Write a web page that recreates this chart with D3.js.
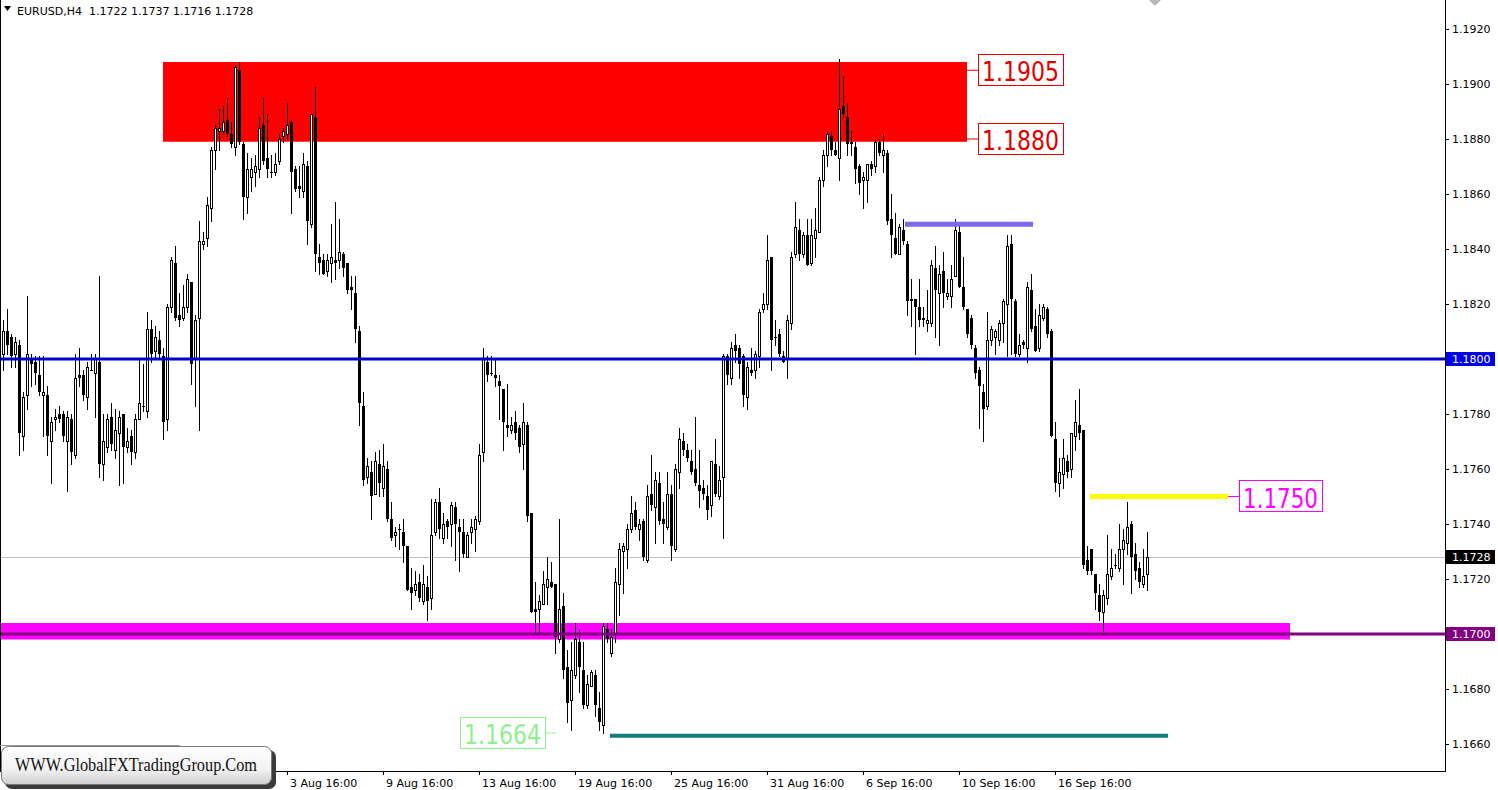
<!DOCTYPE html>
<html><head><meta charset="utf-8">
<script src="https://cdn.jsdelivr.net/npm/d3@7"></script>
<style>body{margin:0;background:#fff}svg{display:block}</style>
</head><body><svg id="c" width="1498" height="790"></svg>
<script>
// ---- data (EURUSD H4) ----
const symbolTitle = "EURUSD,H4";
const opens = [
1.1802,1.1810,1.1808,1.1802,1.1805,1.1772,1.1787,1.1800,1.1799,1.1794,
1.1787,1.1787,1.1770,1.1778,1.1780,1.1780,1.1770,1.1778,1.1765,1.1794,
1.1794,1.1786,1.1796,1.1795,1.1799,1.1762,1.1768,1.1779,1.1767,1.1773,
1.1780,1.1768,1.1772,1.1766,1.1778,1.1783,1.1781,1.1811,1.1803,1.1807,
1.1801,1.1778,1.1819,1.1835,1.1816,1.1815,1.1819,1.1828,1.1800,1.1815,
1.1842,1.1844,1.1855,1.1876,1.1883,1.1883,1.1887,1.1882,1.1877,1.1905,
1.1878,1.1859,1.1866,1.1868,1.1869,1.1885,1.1873,1.1868,1.1868,1.1872,
1.1881,1.1882,1.1886,1.1869,1.1863,1.1861,1.1870,1.1849,1.1888,1.1837,
1.1836,1.1832,1.1835,1.1836,1.1836,1.1838,1.1835,1.1826,1.1824,1.1810,
1.1783,1.1757,1.1759,1.1751,1.1762,1.1753,1.1760,1.1742,1.1736,1.1738,
1.1737,1.1732,1.1717,1.1716,1.1719,1.1712,1.1717,1.1713,1.1737,1.1748,
1.1735,1.1741,1.1740,1.1746,1.1739,1.1737,1.1728,1.1737,1.1738,1.1741,
1.1766,1.1799,1.1795,1.1794,1.1792,1.1789,1.1776,1.1774,1.1777,1.1775,
1.1769,1.1776,1.1744,1.1709,1.1709,1.1711,1.1717,1.1719,1.1718,1.1698,
1.1710,1.1688,1.1676,1.1685,1.1697,1.1687,1.1674,1.1681,1.1685,1.1673,
1.1667,1.1702,1.1693,1.1700,1.1718,1.1730,1.1731,1.1738,1.1745,1.1738,
1.1741,1.1727,1.1751,1.1746,1.1755,1.1742,1.1739,1.1751,1.1731,1.1759,
1.1770,1.1767,1.1763,1.1760,1.1754,1.1753,1.1750,1.1747,1.1762,1.1750,
1.1757,1.1801,1.1793,1.1805,1.1804,1.1801,1.1786,1.1796,1.1796,1.1801,
1.1818,1.1820,1.1837,1.1808,1.1809,1.1801,1.1800,1.1813,1.1838,1.1847,
1.1838,1.1845,1.1835,1.1844,1.1846,1.1865,1.1874,1.1881,1.1876,1.1873,
1.1892,1.1888,1.1879,1.1877,1.1870,1.1865,1.1865,1.1871,1.1870,1.1879,
1.1874,1.1875,1.1851,1.1844,1.1838,1.1847,1.1842,1.1822,1.1822,1.1819,
1.1815,1.1813,1.1813,1.1833,1.1824,1.1832,1.1823,1.1823,1.1830,1.1846,
1.1826,1.1818,1.1815,1.1804,1.1796,1.1788,1.1783,1.1807,1.1808,1.1807,
1.1813,1.1820,1.1842,1.1821,1.1802,1.1806,1.1804,1.1825,1.1812,1.1804,
1.1815,1.1818,1.1810,1.1771,1.1755,1.1758,1.1763,1.1760,1.1772,1.1776,
1.1774,1.1727,1.1731,1.1722,1.1714,1.1708,1.1713,1.1721,1.1725,1.1724,
1.1731,1.1733,1.1740,1.1729,1.1724,1.1718,1.1722];
const highs = [
1.1814,1.1818,1.1809,1.1808,1.1807,1.1788,1.1823,1.1802,1.1801,1.1801,
1.1801,1.1790,1.1779,1.1782,1.1783,1.1781,1.1781,1.1780,1.1802,1.1804,
1.1796,1.1799,1.1802,1.1802,1.1830,1.1780,1.1780,1.1784,1.1782,1.1781,
1.1780,1.1775,1.1774,1.1780,1.1800,1.1798,1.1817,1.1814,1.1812,1.1810,
1.1804,1.1820,1.1837,1.1841,1.1824,1.1827,1.1831,1.1828,1.1816,1.1850,
1.1846,1.1859,1.1877,1.1885,1.1891,1.1892,1.1895,1.1886,1.1907,1.1908,
1.1879,1.1875,1.1873,1.1874,1.1888,1.1895,1.1889,1.1874,1.1875,1.1882,
1.1884,1.1893,1.1887,1.1870,1.1870,1.1875,1.1872,1.1889,1.1899,1.1842,
1.1838,1.1838,1.1849,1.1857,1.1851,1.1839,1.1835,1.1830,1.1830,1.1812,
1.1788,1.1764,1.1763,1.1766,1.1767,1.1769,1.1763,1.1748,1.1739,1.1740,
1.1742,1.1732,1.1724,1.1723,1.1722,1.1725,1.1721,1.1749,1.1749,1.1753,
1.1744,1.1742,1.1748,1.1748,1.1742,1.1742,1.1737,1.1742,1.1743,1.1769,
1.1804,1.1801,1.1801,1.1800,1.1794,1.1789,1.1791,1.1779,1.1781,1.1776,
1.1784,1.1777,1.1744,1.1719,1.1714,1.1723,1.1728,1.1726,1.1718,1.1742,
1.1715,1.1694,1.1697,1.1704,1.1702,1.1697,1.1685,1.1687,1.1687,1.1679,
1.1704,1.1704,1.1702,1.1724,1.1733,1.1733,1.1740,1.1750,1.1748,1.1742,
1.1742,1.1754,1.1765,1.1759,1.1759,1.1748,1.1759,1.1754,1.1762,1.1775,
1.1773,1.1769,1.1767,1.1779,1.1767,1.1756,1.1754,1.1763,1.1771,1.1761,
1.1802,1.1802,1.1806,1.1809,1.1805,1.1802,1.1799,1.1804,1.1803,1.1818,
1.1824,1.1845,1.1837,1.1814,1.1811,1.1803,1.1816,1.1839,1.1857,1.1851,
1.1846,1.1851,1.1851,1.1855,1.1866,1.1876,1.1883,1.1883,1.1879,1.1909,
1.1903,1.1893,1.1883,1.1879,1.1871,1.1868,1.1871,1.1872,1.1880,1.1880,
1.1882,1.1876,1.1860,1.1853,1.1849,1.1851,1.1843,1.1829,1.1822,1.1829,
1.1819,1.1825,1.1836,1.1841,1.1834,1.1839,1.1829,1.1834,1.1851,1.1849,
1.1837,1.1818,1.1816,1.1805,1.1797,1.1791,1.1817,1.1812,1.1811,1.1814,
1.1822,1.1845,1.1845,1.1822,1.1809,1.1807,1.1828,1.1831,1.1818,1.1820,
1.1820,1.1819,1.1811,1.1777,1.1764,1.1771,1.1765,1.1773,1.1785,1.1789,
1.1774,1.1732,1.1731,1.1722,1.1718,1.1716,1.1736,1.1731,1.1729,1.1740,
1.1738,1.1748,1.1741,1.1733,1.1726,1.1731,1.1737];
const lows = [
1.1796,1.1802,1.1797,1.1797,1.1765,1.1767,1.1782,1.1790,1.1791,1.1787,
1.1772,1.1765,1.1755,1.1774,1.1777,1.1770,1.1752,1.1762,1.1764,1.1790,
1.1785,1.1782,1.1796,1.1779,1.1757,1.1756,1.1766,1.1767,1.1764,1.1754,
1.1755,1.1766,1.1762,1.1764,1.1778,1.1781,1.1779,1.1799,1.1800,1.1800,
1.1771,1.1774,1.1817,1.1814,1.1812,1.1814,1.1817,1.1791,1.1783,1.1774,
1.1840,1.1841,1.1850,1.1869,1.1876,1.1882,1.1881,1.1877,1.1874,1.1878,
1.1851,1.1853,1.1861,1.1863,1.1866,1.1871,1.1866,1.1866,1.1867,1.1871,
1.1879,1.1880,1.1853,1.1861,1.1859,1.1859,1.1842,1.1848,1.1832,1.1831,
1.1831,1.1830,1.1828,1.1829,1.1833,1.1830,1.1824,1.1818,1.1806,1.1776,
1.1754,1.1755,1.1742,1.1751,1.1750,1.1750,1.1741,1.1734,1.1732,1.1731,
1.1726,1.1716,1.1709,1.1714,1.1712,1.1711,1.1705,1.1709,1.1736,1.1735,
1.1733,1.1735,1.1732,1.1727,1.1723,1.1728,1.1728,1.1733,1.1730,1.1740,
1.1763,1.1792,1.1794,1.1790,1.1778,1.1767,1.1772,1.1773,1.1771,1.1766,
1.1760,1.1741,1.1708,1.1700,1.1700,1.1711,1.1711,1.1717,1.1693,1.1697,
1.1684,1.1668,1.1665,1.1684,1.1679,1.1673,1.1673,1.1681,1.1670,1.1665,
1.1664,1.1697,1.1692,1.1697,1.1707,1.1715,1.1724,1.1737,1.1738,1.1734,
1.1727,1.1726,1.1745,1.1733,1.1740,1.1733,1.1738,1.1727,1.1730,1.1753,
1.1765,1.1763,1.1758,1.1754,1.1746,1.1749,1.1742,1.1743,1.1750,1.1749,
1.1735,1.1791,1.1791,1.1799,1.1793,1.1783,1.1782,1.1794,1.1793,1.1797,
1.1817,1.1818,1.1796,1.1805,1.1801,1.1799,1.1793,1.1811,1.1837,1.1836,
1.1837,1.1834,1.1834,1.1837,1.1846,1.1863,1.1870,1.1874,1.1874,1.1865,
1.1888,1.1874,1.1874,1.1864,1.1860,1.1855,1.1857,1.1867,1.1868,1.1874,
1.1868,1.1849,1.1837,1.1838,1.1838,1.1842,1.1816,1.1812,1.1802,1.1812,
1.1812,1.1810,1.1812,1.1808,1.1805,1.1819,1.1822,1.1819,1.1830,1.1826,
1.1818,1.1808,1.1804,1.1793,1.1775,1.1770,1.1782,1.1805,1.1802,1.1805,
1.1806,1.1801,1.1802,1.1801,1.1801,1.1804,1.1799,1.1810,1.1803,1.1803,
1.1814,1.1808,1.1772,1.1752,1.1750,1.1753,1.1757,1.1757,1.1767,1.1771,
1.1724,1.1722,1.1722,1.1709,1.1705,1.1701,1.1711,1.1720,1.1724,1.1723,
1.1718,1.1729,1.1715,1.1720,1.1717,1.1717,1.1716];
const closes = [
1.1810,1.1805,1.1801,1.1806,1.1773,1.1786,1.1802,1.1798,1.1795,1.1788,
1.1788,1.1772,1.1777,1.1779,1.1778,1.1772,1.1779,1.1766,1.1793,1.1793,
1.1787,1.1797,1.1796,1.1800,1.1762,1.1770,1.1778,1.1769,1.1774,1.1779,
1.1768,1.1770,1.1766,1.1778,1.1784,1.1783,1.1811,1.1802,1.1808,1.1802,
1.1777,1.1819,1.1836,1.1815,1.1814,1.1819,1.1829,1.1798,1.1814,1.1843,
1.1843,1.1856,1.1876,1.1884,1.1884,1.1886,1.1882,1.1878,1.1906,1.1879,
1.1859,1.1869,1.1869,1.1870,1.1884,1.1872,1.1869,1.1868,1.1871,1.1880,
1.1883,1.1885,1.1868,1.1862,1.1862,1.1871,1.1850,1.1889,1.1838,1.1835,
1.1831,1.1836,1.1837,1.1835,1.1839,1.1833,1.1825,1.1825,1.1811,1.1784,
1.1756,1.1761,1.1750,1.1763,1.1755,1.1761,1.1742,1.1735,1.1737,1.1738,
1.1732,1.1716,1.1715,1.1718,1.1713,1.1718,1.1712,1.1736,1.1748,1.1738,
1.1740,1.1739,1.1747,1.1740,1.1737,1.1729,1.1736,1.1739,1.1742,1.1765,
1.1800,1.1794,1.1795,1.1793,1.1790,1.1777,1.1775,1.1776,1.1773,1.1768,
1.1777,1.1743,1.1708,1.1708,1.1712,1.1718,1.1720,1.1717,1.1699,1.1709,
1.1687,1.1675,1.1687,1.1698,1.1688,1.1674,1.1682,1.1686,1.1674,1.1668,
1.1703,1.1698,1.1699,1.1719,1.1731,1.1732,1.1738,1.1744,1.1739,1.1740,
1.1728,1.1750,1.1747,1.1756,1.1741,1.1740,1.1751,1.1732,1.1760,1.1771,
1.1767,1.1764,1.1759,1.1755,1.1752,1.1751,1.1745,1.1763,1.1751,1.1756,
1.1801,1.1794,1.1804,1.1803,1.1798,1.1787,1.1797,1.1795,1.1802,1.1817,
1.1820,1.1836,1.1807,1.1808,1.1802,1.1799,1.1814,1.1837,1.1848,1.1838,
1.1845,1.1834,1.1845,1.1847,1.1865,1.1874,1.1882,1.1876,1.1874,1.1891,
1.1889,1.1878,1.1878,1.1869,1.1864,1.1866,1.1871,1.1869,1.1879,1.1875,
1.1876,1.1850,1.1845,1.1838,1.1848,1.1843,1.1821,1.1821,1.1819,1.1814,
1.1814,1.1814,1.1834,1.1825,1.1831,1.1824,1.1824,1.1829,1.1847,1.1826,
1.1819,1.1809,1.1805,1.1795,1.1790,1.1782,1.1807,1.1811,1.1810,1.1813,
1.1821,1.1841,1.1822,1.1802,1.1805,1.1805,1.1826,1.1811,1.1803,1.1816,
1.1819,1.1809,1.1772,1.1755,1.1759,1.1764,1.1759,1.1773,1.1777,1.1773,
1.1725,1.1723,1.1723,1.1715,1.1708,1.1714,1.1722,1.1724,1.1725,1.1731,
1.1734,1.1739,1.1728,1.1723,1.1719,1.1721,1.1728];

const priceTicks = [1.1660,1.1680,1.1700,1.1720,1.1740,1.1760,1.1780,1.1800,1.1820,1.1840,1.1860,1.1880,1.1900,1.1920];
const timeTickBars = [48,72,96,120,144,168,192,216,240,264];
const timeTickLabels = ["28 Jul 2021","3 Aug 16:00","9 Aug 16:00","13 Aug 16:00","19 Aug 16:00","25 Aug 16:00","31 Aug 16:00","6 Sep 16:00","10 Sep 16:00","16 Sep 16:00"];

// analysis objects (prices / bar indexes)
const resistanceZone = {from: 40, to: 241, top: 1.1908, bottom: 1.1879};
const resistanceLabels = [1.1905, 1.1880];
const supportZone = {from: -1, to: 321.75, top: 1.1704, bottom: 1.1698};
const level1800 = 1.1800;
const level1700 = 1.1700;
const currentPrice = 1.1728;
const slateLevel = {from: 225.5, to: 257.5, price: 1.1849};
const yellowLevel = {from: 271.75, to: 306.25, price: 1.1750, label: "1.1750"};
const tealLevel = {from: 151.75, to: 291.25, price: 1.1663};
const lowLabel = {price: 1.1664, label: "1.1664"};
const watermark = "WWW.GlobalFXTradingGroup.Com";

// ---- drawing ----
const svg = d3.select("#c");
const plotR = 1445, plotB = 771;
const x = d3.scaleLinear().domain([0, 286]).range([3, 1147]);
const y = d3.scaleLinear().domain([1.1660, 1.1920]).range([744, 29]);
const fmt = d3.format(".4f");
const FONT = "'DejaVu Sans', Verdana, sans-serif";

svg.append("rect").attr("width",1498).attr("height",790).attr("fill","#fff");
const defs = svg.append("defs");
const g1 = defs.append("linearGradient").attr("id","wm").attr("x1",0).attr("y1",0).attr("x2",0).attr("y2",1);
g1.append("stop").attr("offset","0%").attr("stop-color","#ffffff");
g1.append("stop").attr("offset","60%").attr("stop-color","#f2f2f2");
g1.append("stop").attr("offset","100%").attr("stop-color","#cfcfcf");
defs.append("clipPath").attr("id","plot").append("rect").attr("x",0).attr("y",0).attr("width",plotR).attr("height",plotB);

const plot = svg.append("g").attr("clip-path","url(#plot)");

// zones
plot.append("rect")
  .attr("x", x(resistanceZone.from)).attr("width", x(resistanceZone.to)-x(resistanceZone.from))
  .attr("y", y(resistanceZone.top)).attr("height", y(resistanceZone.bottom)-y(resistanceZone.top))
  .attr("fill","#ff0000");
plot.append("rect")
  .attr("x", Math.max(0,x(supportZone.from))).attr("width", x(supportZone.to)-Math.max(0,x(supportZone.from)))
  .attr("y", y(supportZone.top)).attr("height", y(supportZone.bottom)-y(supportZone.top))
  .attr("fill","#ff00ff");

// current price line
plot.append("line").attr("x1",0).attr("x2",plotR)
  .attr("y1", Math.round(y(currentPrice))+0.5).attr("y2", Math.round(y(currentPrice))+0.5)
  .attr("stroke","#c0c0c0").attr("stroke-width",1);

// candles
const bars = d3.range(opens.length).map(i => ({i, o:opens[i], h:highs[i], l:lows[i], c:closes[i]}));
const cg = plot.append("g").attr("shape-rendering","crispEdges");
bars.forEach(d => {
  const cx = Math.round(x(d.i));
  const yh = Math.round(y(d.h)), yl = Math.round(y(d.l));
  cg.append("line").attr("x1",cx+0.5).attr("x2",cx+0.5).attr("y1",yh).attr("y2",yl+1)
    .attr("stroke","#000").attr("stroke-width",1);
  const top = Math.round(y(Math.max(d.o,d.c))), bot = Math.round(y(Math.min(d.o,d.c)));
  if (d.c > d.o && bot - top >= 2) {
    cg.append("rect").attr("x",cx-0.5).attr("y",top+0.5).attr("width",2).attr("height",bot-top)
      .attr("fill","#fff").attr("stroke","#000").attr("stroke-width",1);
  } else {
    cg.append("rect").attr("x",cx-1).attr("y",top).attr("width",3).attr("height",Math.max(1,bot-top+ (d.c>d.o?1:0)))
      .attr("fill","#000");
  }
});

// horizontal levels
function hline(p, x1, x2, color, w) {
  plot.append("line").attr("x1",x1).attr("x2",x2).attr("y1",y(p)).attr("y2",y(p))
    .attr("stroke",color).attr("stroke-width",w);
}
hline(level1800, 0, plotR, "#0000cd", 3);
hline(level1700, 0, plotR, "#800080", 3);
hline(slateLevel.price, x(slateLevel.from), x(slateLevel.to), "#7b68ee", 5);
hline(yellowLevel.price, x(yellowLevel.from), x(yellowLevel.to), "#ffff00", 5);
hline(tealLevel.price, x(tealLevel.from), x(tealLevel.to), "#127c7c", 4);

// boxed price labels
function boxLabel(p, bx, bw, color, txt, connFrom) {
  const cy = y(p);
  if (connFrom !== undefined) {
    plot.append("line").attr("x1",connFrom).attr("x2",bx).attr("y1",cy).attr("y2",cy)
      .attr("stroke",color).attr("stroke-width",1);
  }
  plot.append("rect").attr("x",bx+0.5).attr("y",Math.round(cy-16)+0.5).attr("width",bw).attr("height",31)
    .attr("fill","none").attr("stroke",color).attr("stroke-width",1);
  plot.append("text").attr("x",bx+4).attr("y",cy+11).attr("fill",color)
    .attr("font-family",FONT).attr("font-size",27)
    .attr("textLength",bw-8).attr("lengthAdjust","spacingAndGlyphs").text(txt);
}
boxLabel(resistanceLabels[0], 978, 85, "#e00000", fmt(resistanceLabels[0]), x(resistanceZone.to));
boxLabel(resistanceLabels[1], 978, 85, "#e00000", fmt(resistanceLabels[1]), x(resistanceZone.to));
boxLabel(yellowLevel.price, 1239, 83, "#ff00ff", yellowLevel.label, x(yellowLevel.to));
boxLabel(lowLabel.price, 460, 85, "#90ee90", lowLabel.label);
plot.append("line").attr("x1",546).attr("x2",556).attr("y1",y(lowLabel.price)).attr("y2",y(lowLabel.price))
  .attr("stroke","#90ee90").attr("stroke-width",1);

// chart-shift marker
svg.append("path").attr("d","M1149,0 L1161,0 L1155,6 Z").attr("fill","#b8b8b8");

// frame
const fr = svg.append("g").attr("shape-rendering","crispEdges").attr("stroke","#000");
fr.append("line").attr("x1",0.5).attr("x2",0.5).attr("y1",0).attr("y2",plotB);
fr.append("line").attr("x1",plotR+0.5).attr("x2",plotR+0.5).attr("y1",0).attr("y2",plotB);
fr.append("line").attr("x1",0).attr("x2",plotR+1).attr("y1",plotB+0.5).attr("y2",plotB+0.5);

// price axis
const ya = svg.append("g");
priceTicks.forEach(p => {
  const ty = Math.round(y(p));
  ya.append("line").attr("x1",plotR).attr("x2",plotR+4).attr("y1",ty+0.5).attr("y2",ty+0.5)
    .attr("stroke","#000").attr("shape-rendering","crispEdges");
  ya.append("text").attr("x",1452).attr("y",ty+4).attr("font-family",FONT).attr("font-size",11)
    .attr("fill","#000").text(fmt(p));
});
function badge(p, color) {
  const ty = Math.round(y(p));
  ya.append("rect").attr("x",plotR+1).attr("y",ty-7).attr("width",49).attr("height",14).attr("fill",color);
  ya.append("text").attr("x",1452).attr("y",ty+4).attr("font-family",FONT).attr("font-size",11)
    .attr("fill","#fff").text(fmt(p));
}
badge(level1800, "#0000e6");
badge(currentPrice, "#000000");
badge(level1700, "#800080");

// time axis
const xa = svg.append("g");
timeTickBars.forEach((b, k) => {
  const tx = Math.round(x(b));
  xa.append("line").attr("x1",tx-3.5).attr("x2",tx-3.5).attr("y1",plotB).attr("y2",plotB+4)
    .attr("stroke","#000").attr("shape-rendering","crispEdges");
  xa.append("text").attr("x",tx-1).attr("y",787).attr("font-family",FONT).attr("font-size",11)
    .attr("fill","#000").text(timeTickLabels[k]);
});

// header
svg.append("path").attr("d","M4,6 L11,6 L7.5,11 Z").attr("fill","#000");
svg.append("text").attr("x",17).attr("y",15).attr("font-family",FONT).attr("font-size",11).attr("fill","#000")
  .attr("xml:space","preserve")
  .text(symbolTitle + "  " + [opens, highs, lows, closes].map(a => fmt(a[a.length-1])).join(" "));

// watermark
svg.append("line").attr("x1",0).attr("x2",180).attr("y1",745.5).attr("y2",745.5).attr("stroke","#9a9a9a");
svg.append("rect").attr("x",5).attr("y",750).attr("width",271).attr("height",39).attr("rx",7).attr("fill","#3a3a3a");
svg.append("rect").attr("x",1.5).attr("y",746.5).attr("width",270).attr("height",38).attr("rx",7)
  .attr("fill","url(#wm)").attr("stroke","#777");
svg.append("text").attr("x",15).attr("y",771).attr("font-family","'Liberation Serif', 'Times New Roman', serif")
  .attr("font-size",18).attr("fill","#111").attr("textLength",242).attr("lengthAdjust","spacingAndGlyphs")
  .text(watermark);
</script></body></html>
